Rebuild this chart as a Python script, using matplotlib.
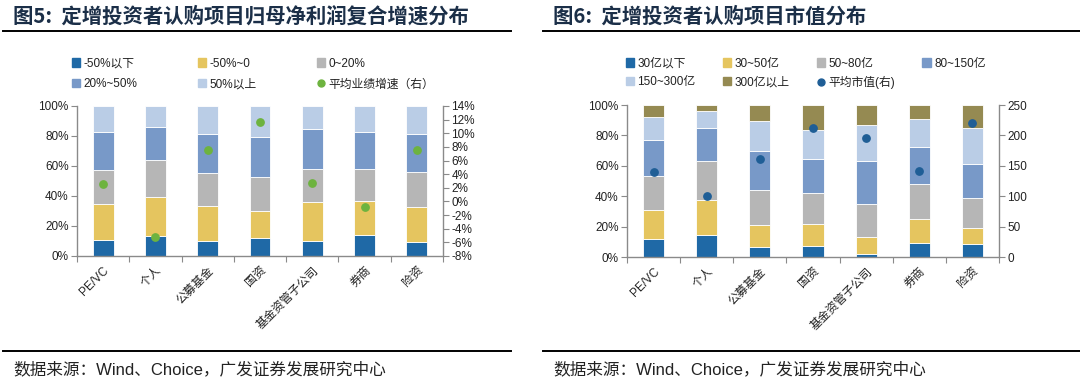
import matplotlib
matplotlib.use("Agg")
import matplotlib.pyplot as plt
from matplotlib.patches import Patch
from matplotlib.lines import Line2D
from matplotlib.ticker import FuncFormatter
import numpy as np

plt.rcParams['font.family'] = ['Liberation Sans', 'Noto Sans CJK SC']
plt.rcParams['axes.unicode_minus'] = False

# categories shared by both charts
investors = ["PE/VC", "个人", "公募基金", "国资", "基金资管子公司", "券商", "险资"]

# chart 5: share of projects by net-profit CAGR bucket (%)
growth_labels = ["-50%以下", "-50%~0", "0~20%", "20%~50%", "50%以上"]
g_below_m50 = [10.7, 13.1, 10.2, 12.2, 10.0, 14.2, 9.6]
g_m50_0 = [24.2, 26.2, 22.9, 17.8, 26.0, 22.7, 23.1]
g_0_20 = [22.2, 24.9, 22.2, 22.4, 21.8, 20.9, 23.3]
g_20_50 = [25.6, 21.8, 26.3, 27.2, 26.6, 24.6, 25.6]
g_above50 = [17.3, 14.0, 18.4, 20.4, 15.6, 17.6, 18.4]
avg_growth = [2.6, -5.2, 7.6, 11.6, 2.7, -0.8, 7.5]   # right axis, %

# chart 6: share of projects by market cap bucket (%)
cap_labels = ["30亿以下", "30~50亿", "50~80亿", "80~150亿", "150~300亿", "300亿以上"]
c_below30 = [11.6, 14.3, 6.8, 7.5, 1.8, 9.4, 8.3]
c_30_50 = [19.5, 23.2, 14.3, 14.0, 11.1, 15.4, 10.6]
c_50_80 = [22.2, 25.9, 23.2, 20.4, 22.2, 23.0, 20.1]
c_80_150 = [23.7, 21.5, 25.2, 22.8, 27.8, 24.3, 22.4]
c_150_300 = [15.1, 10.9, 20.0, 19.1, 24.1, 18.7, 23.2]
c_above300 = [7.9, 4.2, 10.5, 16.2, 13.0, 9.2, 15.4]
avg_cap = [139, 100, 162, 212, 195, 141, 220]   # right axis, 亿

dark_blue = "#1f69a6"
yellow = "#e5c55f"
gray = "#b6b6b6"
mid_blue = "#7899c8"
light_blue = "#bacde6"
olive = "#958a52"
spine_col = "#8a8a8a"
text_col = "#222222"

W, H = 1080, 387
fig = plt.figure(figsize=(W / 100, H / 100), dpi=100)


def px_axes(x0, y_top, x1, y_bot):
    return fig.add_axes([x0 / W, 1 - y_bot / H, (x1 - x0) / W, (y_bot - y_top) / H])


def style_axes(ax, ax2):
    for a in (ax, ax2):
        a.spines['top'].set_visible(False)
        for s in ('left', 'right', 'bottom'):
            a.spines[s].set_color(spine_col)
            a.spines[s].set_linewidth(1.0)
    ax.spines['right'].set_visible(False)
    ax2.spines['left'].set_visible(False)
    ax2.spines['bottom'].set_visible(False)
    ax.set_xlim(-0.5, len(investors) - 0.5)
    ax.set_xticks(np.arange(-0.5, len(investors) + 0.5, 1.0))
    ax.set_xticklabels([])
    ax.set_xticks(np.arange(len(investors)), minor=True)
    ax.set_xticklabels(investors, minor=True, rotation=45, ha='right',
                       rotation_mode='anchor', fontsize=8.5, color=text_col)
    ax.tick_params(axis='x', which='major', length=4, color=spine_col, direction='out')
    ax.tick_params(axis='x', which='minor', length=0, pad=6)
    ax.set_ylim(0, 100)
    ax.set_yticks(range(0, 101, 20))
    ax.yaxis.set_major_formatter(FuncFormatter(lambda v, p: f"{v:.0f}%"))
    for a in (ax, ax2):
        a.tick_params(axis='y', length=4, color=spine_col, labelsize=8.5,
                      labelcolor=text_col, pad=2)


def stacked(ax, series, colors):
    x = np.arange(len(investors))
    bottom = np.zeros(len(investors))
    for vals, c in zip(series, colors):
        ax.bar(x, vals, 0.4, bottom=bottom, color=c, edgecolor='white', linewidth=0.6)
        bottom += np.array(vals)


def frame(x0, x1, title, source):
    fig.add_artist(Line2D([x0 / W, x1 / W], [1 - 31 / H] * 2, color='black', lw=1.4))
    fig.add_artist(Line2D([x0 / W, x1 / W], [1 - 351 / H] * 2, color='black', lw=1.4))
    fig.text((x0 + 10) / W, 1 - 16 / H, title, fontsize=14.7, fontweight='bold',
             color='#1b2f48', va='center', family=['Noto Sans CJK SC'])
    fig.text((x0 + 10) / W, 1 - 369 / H, source, fontsize=12, color=text_col,
             va='center', family=['Liberation Sans', 'Noto Sans CJK SC'])


# ---- chart 5 ----
ax5 = px_axes(77, 106, 443, 256)
ax5b = ax5.twinx()
colors5 = [dark_blue, yellow, gray, mid_blue, light_blue]
stacked(ax5, [g_below_m50, g_m50_0, g_0_20, g_20_50, g_above50], colors5)
ax5b.scatter(np.arange(len(investors)), avg_growth, s=28, color="#6db33f", zorder=5)
ax5b.set_ylim(-8, 14)
ax5b.set_yticks(range(-8, 15, 2))
ax5b.yaxis.set_major_formatter(FuncFormatter(lambda v, p: f"{v:.0f}%"))
style_axes(ax5, ax5b)

h5 = [Patch(color=c) for c in colors5]
h5.append(Line2D([], [], marker='o', ls='', color="#6db33f", markersize=5))
l5 = growth_labels + ["平均业绩增速（右）"]
order5 = [0, 3, 1, 4, 2, 5]
fig.legend([h5[i] for i in order5], [l5[i] for i in order5], ncol=3,
           loc='upper left', bbox_to_anchor=(61 / W, 1 - 47 / H), frameon=False,
           fontsize=8.5, handlelength=0.7, handleheight=0.7, handletextpad=0.3,
           columnspacing=5.1, labelspacing=0.75, labelcolor=text_col)

frame(3, 511, "图5:  定增投资者认购项目归母净利润复合增速分布",
      "数据来源：Wind、Choice，广发证券发展研究中心")

# ---- chart 6 ----
ax6 = px_axes(627, 105, 999, 257)
ax6b = ax6.twinx()
colors6 = [dark_blue, yellow, gray, mid_blue, light_blue, olive]
stacked(ax6, [c_below30, c_30_50, c_50_80, c_80_150, c_150_300, c_above300], colors6)
ax6b.scatter(np.arange(len(investors)), avg_cap, s=28, color="#1f5e96", zorder=5)
ax6b.set_ylim(0, 250)
ax6b.set_yticks(range(0, 251, 50))
style_axes(ax6, ax6b)

h6 = [Patch(color=c) for c in colors6]
h6.append(Line2D([], [], marker='o', ls='', color="#1f5e96", markersize=5))
l6 = cap_labels + ["平均市值(右)"]
order6 = [0, 4, 1, 5, 2, 6, 3]
fig.legend([h6[i] for i in order6], [l6[i] for i in order6], ncol=4,
           loc='upper left', bbox_to_anchor=(615 / W, 1 - 47 / H), frameon=False,
           fontsize=8.5, handlelength=0.7, handleheight=0.7, handletextpad=0.3,
           columnspacing=2.3, labelspacing=0.55, labelcolor=text_col)

frame(543, 1080, "图6:  定增投资者认购项目市值分布",
      "数据来源：Wind、Choice，广发证券发展研究中心")

fig.savefig("out.png", dpi=100, facecolor='white')
